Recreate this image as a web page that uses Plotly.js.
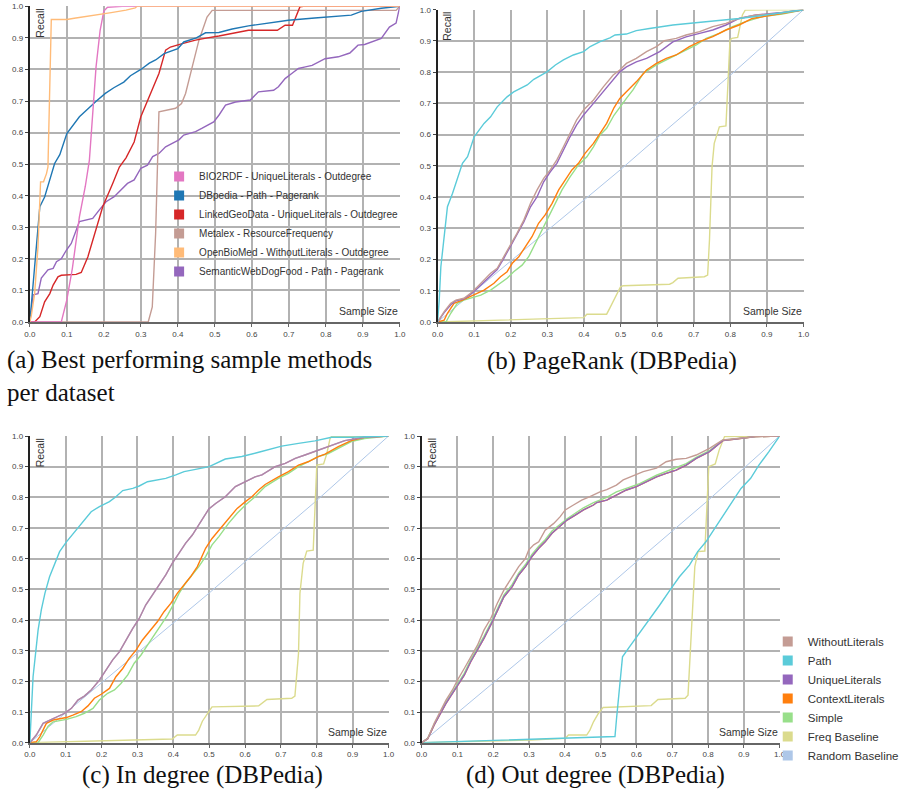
<!DOCTYPE html>
<html>
<head>
<meta charset="utf-8">
<script src="https://cdn.plot.ly/plotly-3.0.1.min.js"></script>
<style>html,body{margin:0;padding:0;background:#fff;}#chart{width:904px;height:794px;}</style>
</head>
<body>
<div id="chart"></div>
<script>
// ---------------- DATA ----------------
// (a) Best performing sample methods per dataset
const a_bio2rdf_x = [0, 0.085, 0.1, 0.115, 0.134, 0.15, 0.161, 0.17, 0.179, 0.19, 0.2, 0.21, 0.25, 1.0];
const a_bio2rdf_y = [0, 0, 0.07, 0.17, 0.333, 0.43, 0.513, 0.65, 0.808, 0.924, 0.985, 0.997, 1.0, 1.0];
const a_dbpedia_x = [0, 0.009, 0.019, 0.027, 0.04, 0.067, 0.081, 0.1, 0.134, 0.152, 0.18, 0.204, 0.227, 0.254, 0.272, 0.3, 0.323, 0.34, 0.363, 0.4, 0.416, 0.45, 0.475, 0.511, 0.547, 0.591, 0.636, 0.699, 0.77, 0.833, 0.869, 0.896, 0.95, 1.0];
const a_dbpedia_y = [0, 0.123, 0.28, 0.365, 0.396, 0.502, 0.53, 0.597, 0.65, 0.67, 0.70, 0.724, 0.742, 0.76, 0.78, 0.80, 0.82, 0.83, 0.85, 0.866, 0.887, 0.9, 0.916, 0.917, 0.928, 0.938, 0.945, 0.956, 0.963, 0.968, 0.972, 0.984, 0.994, 1.0];
const a_lgd_x = [0, 0.013, 0.027, 0.04, 0.054, 0.063, 0.076, 0.085, 0.125, 0.139, 0.157, 0.179, 0.197, 0.224, 0.242, 0.26, 0.282, 0.3, 0.323, 0.349, 0.367, 0.38, 0.412, 0.448, 0.48, 0.511, 0.591, 0.669, 0.69, 0.71, 0.73, 0.74, 1.0];
const a_lgd_y = [0, 0, 0.017, 0.064, 0.09, 0.117, 0.143, 0.148, 0.151, 0.157, 0.207, 0.291, 0.365, 0.439, 0.491, 0.52, 0.57, 0.65, 0.713, 0.787, 0.861, 0.871, 0.882, 0.893, 0.9, 0.906, 0.924, 0.924, 0.94, 0.94, 0.998, 1.0, 1.0];
const a_metalex_x = [0, 0.32, 0.331, 0.34, 0.349, 0.394, 0.41, 0.421, 0.439, 0.457, 0.479, 0.493, 0.99, 1.0];
const a_metalex_y = [0, 0, 0.048, 0.28, 0.666, 0.677, 0.692, 0.724, 0.808, 0.892, 0.966, 0.987, 0.987, 1.0];
const a_obm_x = [0, 0.004, 0.013, 0.022, 0.029, 0.037, 0.045, 0.049, 0.058, 0.1, 0.12, 0.18, 0.22, 0.26, 0.285, 0.29, 1.0];
const a_obm_y = [0, 0.02, 0.09, 0.238, 0.444, 0.444, 0.47, 0.491, 0.958, 0.958, 0.962, 0.972, 0.98, 0.988, 0.995, 1.0, 1.0];
const a_swdf_x = [0, 0.009, 0.022, 0.031, 0.049, 0.063, 0.072, 0.085, 0.099, 0.112, 0.134, 0.17, 0.188, 0.206, 0.228, 0.246, 0.264, 0.282, 0.3, 0.318, 0.332, 0.349, 0.367, 0.385, 0.403, 0.416, 0.434, 0.448, 0.466, 0.484, 0.497, 0.511, 0.529, 0.556, 0.596, 0.618, 0.659, 0.672, 0.69, 0.708, 0.726, 0.745, 0.763, 0.798, 0.834, 0.865, 0.887, 0.905, 0.932, 0.95, 0.972, 0.99, 1.0];
const a_swdf_y = [0, 0.086, 0.09, 0.139, 0.165, 0.17, 0.191, 0.2, 0.228, 0.249, 0.318, 0.328, 0.355, 0.381, 0.397, 0.418, 0.439, 0.45, 0.487, 0.497, 0.524, 0.534, 0.555, 0.566, 0.577, 0.592, 0.598, 0.603, 0.614, 0.627, 0.634, 0.655, 0.687, 0.697, 0.703, 0.729, 0.734, 0.745, 0.771, 0.787, 0.803, 0.808, 0.813, 0.834, 0.84, 0.852, 0.877, 0.879, 0.89, 0.898, 0.934, 0.947, 1.0];

// Random baseline (shared by b, c, d)
const rand_x = [0, 0.1, 0.2, 0.3, 0.4, 0.5, 0.6, 0.7, 0.8, 0.9, 1.0];
const rand_y = [0, 0.097, 0.195, 0.294, 0.388, 0.488, 0.59, 0.69, 0.79, 0.895, 1.0];

// (b) PageRank (DBPedia)
const b_path_x = [0, 0.0045, 0.009, 0.018, 0.027, 0.041, 0.054, 0.068, 0.082, 0.1, 0.127, 0.145, 0.163, 0.19, 0.208, 0.226, 0.245, 0.263, 0.299, 0.322, 0.344, 0.371, 0.399, 0.417, 0.444, 0.471, 0.485, 0.516, 0.543, 0.579, 0.643, 0.705, 0.768, 0.824, 0.878, 0.942, 1.0];
const b_path_y = [0, 0.07, 0.177, 0.284, 0.369, 0.412, 0.455, 0.508, 0.529, 0.593, 0.636, 0.657, 0.689, 0.721, 0.737, 0.748, 0.759, 0.777, 0.801, 0.823, 0.839, 0.855, 0.866, 0.882, 0.898, 0.91, 0.919, 0.922, 0.933, 0.94, 0.951, 0.958, 0.965, 0.972, 0.98, 0.99, 1.0];
const b_without_x = [0, 0.018, 0.036, 0.05, 0.072, 0.09, 0.109, 0.127, 0.145, 0.163, 0.181, 0.199, 0.217, 0.236, 0.254, 0.272, 0.29, 0.308, 0.326, 0.344, 0.362, 0.38, 0.399, 0.426, 0.453, 0.48, 0.498, 0.516, 0.543, 0.571, 0.598, 0.62, 0.652, 0.679, 0.716, 0.752, 0.788, 0.824, 0.87, 0.915, 1.0];
const b_without_y = [0, 0.033, 0.06, 0.07, 0.076, 0.092, 0.113, 0.134, 0.156, 0.172, 0.209, 0.247, 0.284, 0.327, 0.38, 0.423, 0.46, 0.487, 0.519, 0.561, 0.604, 0.647, 0.679, 0.711, 0.753, 0.791, 0.807, 0.828, 0.844, 0.866, 0.882, 0.901, 0.908, 0.919, 0.93, 0.946, 0.956, 0.972, 0.983, 0.986, 1.0];
const b_unique_x = [0, 0.018, 0.036, 0.05, 0.072, 0.09, 0.109, 0.127, 0.145, 0.163, 0.181, 0.199, 0.217, 0.236, 0.254, 0.272, 0.29, 0.308, 0.326, 0.344, 0.362, 0.38, 0.399, 0.426, 0.453, 0.48, 0.498, 0.516, 0.543, 0.571, 0.607, 0.643, 0.679, 0.716, 0.752, 0.788, 0.824, 0.87, 0.933, 1.0];
const b_unique_y = [0, 0.03, 0.055, 0.068, 0.074, 0.088, 0.108, 0.128, 0.15, 0.168, 0.204, 0.241, 0.279, 0.321, 0.369, 0.401, 0.449, 0.481, 0.508, 0.551, 0.593, 0.631, 0.663, 0.7, 0.737, 0.775, 0.801, 0.817, 0.833, 0.844, 0.866, 0.897, 0.913, 0.924, 0.935, 0.951, 0.972, 0.983, 0.99, 1.0];
const b_context_x = [0, 0.018, 0.027, 0.045, 0.068, 0.09, 0.109, 0.127, 0.154, 0.172, 0.19, 0.204, 0.222, 0.24, 0.258, 0.276, 0.294, 0.313, 0.331, 0.349, 0.367, 0.385, 0.403, 0.426, 0.444, 0.462, 0.482, 0.498, 0.516, 0.543, 0.571, 0.598, 0.625, 0.652, 0.688, 0.716, 0.752, 0.788, 0.824, 0.86, 0.915, 1.0];
const b_context_y = [0, 0.006, 0.028, 0.06, 0.07, 0.081, 0.092, 0.102, 0.124, 0.145, 0.161, 0.188, 0.209, 0.241, 0.273, 0.316, 0.343, 0.38, 0.423, 0.455, 0.487, 0.508, 0.54, 0.572, 0.604, 0.636, 0.686, 0.716, 0.737, 0.769, 0.807, 0.828, 0.844, 0.855, 0.882, 0.898, 0.914, 0.935, 0.951, 0.972, 0.983, 1.0];
const b_simple_x = [0, 0.023, 0.036, 0.054, 0.072, 0.1, 0.118, 0.145, 0.172, 0.19, 0.208, 0.231, 0.249, 0.267, 0.285, 0.303, 0.322, 0.34, 0.362, 0.385, 0.408, 0.426, 0.444, 0.462, 0.482, 0.498, 0.516, 0.534, 0.562, 0.598, 0.634, 0.67, 0.707, 0.734, 0.77, 0.806, 0.842, 0.888, 0.942, 1.0];
const b_simple_y = [0, 0, 0.028, 0.06, 0.07, 0.081, 0.086, 0.102, 0.124, 0.14, 0.161, 0.182, 0.209, 0.252, 0.295, 0.337, 0.38, 0.423, 0.465, 0.503, 0.529, 0.561, 0.599, 0.62, 0.662, 0.689, 0.716, 0.743, 0.796, 0.823, 0.844, 0.866, 0.887, 0.908, 0.924, 0.946, 0.962, 0.978, 0.986, 1.0];
const b_freq_x = [0, 0.1, 0.19, 0.281, 0.399, 0.408, 0.462, 0.471, 0.485, 0.5, 0.507, 0.634, 0.643, 0.657, 0.729, 0.738, 0.743, 0.75, 0.756, 0.77, 0.788, 0.799, 0.804, 0.82, 0.833, 0.841, 1.0];
const b_freq_y = [0, 0.003, 0.006, 0.01, 0.014, 0.025, 0.025, 0.045, 0.076, 0.113, 0.116, 0.121, 0.126, 0.14, 0.145, 0.15, 0.263, 0.497, 0.572, 0.625, 0.628, 0.903, 0.908, 0.911, 0.983, 0.999, 1.0];

// (c) In degree (DBPedia)
const c_path_x = [0, 0.005, 0.009, 0.017, 0.023, 0.032, 0.042, 0.055, 0.069, 0.083, 0.102, 0.125, 0.148, 0.171, 0.194, 0.222, 0.24, 0.259, 0.287, 0.305, 0.328, 0.36, 0.379, 0.407, 0.43, 0.462, 0.5, 0.545, 0.591, 0.638, 0.702, 0.749, 0.795, 0.841, 0.896, 1.0];
const c_path_y = [0, 0.107, 0.215, 0.302, 0.367, 0.433, 0.487, 0.541, 0.585, 0.623, 0.655, 0.688, 0.721, 0.753, 0.77, 0.786, 0.802, 0.822, 0.829, 0.837, 0.851, 0.857, 0.862, 0.873, 0.884, 0.891, 0.9, 0.925, 0.933, 0.947, 0.967, 0.976, 0.984, 0.996, 0.996, 1.0];
const c_without_x = [0, 0.018, 0.037, 0.051, 0.074, 0.097, 0.116, 0.134, 0.152, 0.171, 0.194, 0.213, 0.231, 0.25, 0.268, 0.287, 0.305, 0.323, 0.342, 0.36, 0.379, 0.397, 0.416, 0.434, 0.453, 0.471, 0.499, 0.518, 0.545, 0.573, 0.601, 0.628, 0.647, 0.684, 0.712, 0.74, 0.767, 0.804, 0.841, 0.878, 0.933, 1.0];
const c_without_y = [0, 0.025, 0.063, 0.071, 0.082, 0.096, 0.112, 0.139, 0.152, 0.172, 0.204, 0.237, 0.27, 0.297, 0.335, 0.373, 0.405, 0.449, 0.482, 0.514, 0.547, 0.585, 0.617, 0.65, 0.677, 0.712, 0.762, 0.78, 0.802, 0.835, 0.851, 0.867, 0.873, 0.9, 0.911, 0.927, 0.938, 0.954, 0.971, 0.985, 0.996, 1.0];
const c_unique_x = c_without_x;   // UniqueLiterals coincides with WithoutLiterals in (c)
const c_unique_y = c_without_y;
const c_context_x = [0, 0.018, 0.028, 0.046, 0.065, 0.102, 0.12, 0.143, 0.162, 0.18, 0.199, 0.222, 0.24, 0.259, 0.277, 0.296, 0.314, 0.333, 0.356, 0.374, 0.393, 0.411, 0.43, 0.448, 0.467, 0.49, 0.508, 0.527, 0.554, 0.578, 0.601, 0.619, 0.638, 0.656, 0.693, 0.721, 0.749, 0.776, 0.804, 0.823, 0.86, 0.896, 0.933, 1.0];
const c_context_y = [0, 0.003, 0.02, 0.063, 0.074, 0.082, 0.09, 0.101, 0.12, 0.145, 0.158, 0.177, 0.215, 0.242, 0.275, 0.302, 0.335, 0.362, 0.395, 0.427, 0.454, 0.487, 0.514, 0.541, 0.574, 0.634, 0.666, 0.693, 0.732, 0.764, 0.786, 0.802, 0.824, 0.842, 0.867, 0.884, 0.905, 0.916, 0.933, 0.941, 0.965, 0.985, 0.996, 1.0];
const c_simple_x = [0, 0.023, 0.037, 0.051, 0.065, 0.102, 0.129, 0.152, 0.176, 0.194, 0.217, 0.236, 0.254, 0.273, 0.291, 0.31, 0.328, 0.347, 0.365, 0.384, 0.402, 0.416, 0.434, 0.453, 0.471, 0.49, 0.508, 0.527, 0.554, 0.578, 0.601, 0.628, 0.656, 0.693, 0.721, 0.749, 0.776, 0.804, 0.832, 0.86, 0.896, 0.933, 1.0];
const c_simple_y = [0, 0, 0.025, 0.054, 0.068, 0.076, 0.085, 0.096, 0.112, 0.139, 0.161, 0.172, 0.193, 0.221, 0.259, 0.286, 0.318, 0.351, 0.384, 0.416, 0.454, 0.487, 0.52, 0.547, 0.574, 0.607, 0.645, 0.672, 0.715, 0.748, 0.775, 0.802, 0.835, 0.862, 0.878, 0.9, 0.916, 0.933, 0.943, 0.96, 0.982, 0.992, 1.0];
const c_freq_x = [0, 0.102, 0.194, 0.287, 0.397, 0.411, 0.462, 0.471, 0.481, 0.499, 0.508, 0.638, 0.661, 0.73, 0.739, 0.749, 0.753, 0.762, 0.772, 0.79, 0.8, 0.819, 0.828, 0.837, 0.841, 1.0];
const c_freq_y = [0, 0.003, 0.005, 0.009, 0.012, 0.025, 0.025, 0.041, 0.07, 0.101, 0.117, 0.12, 0.141, 0.145, 0.152, 0.291, 0.487, 0.585, 0.625, 0.628, 0.905, 0.909, 0.943, 0.992, 0.998, 1.0];

// (d) Out degree (DBPedia)
const d_without_x = [0, 0.017, 0.035, 0.054, 0.068, 0.086, 0.1, 0.119, 0.137, 0.156, 0.174, 0.193, 0.211, 0.23, 0.253, 0.271, 0.29, 0.299, 0.313, 0.327, 0.345, 0.369, 0.387, 0.401, 0.424, 0.447, 0.47, 0.498, 0.517, 0.544, 0.563, 0.591, 0.619, 0.656, 0.683, 0.711, 0.739, 0.767, 0.804, 0.841, 0.878, 0.933, 1.0];
const d_without_y = [0, 0.014, 0.063, 0.107, 0.139, 0.172, 0.204, 0.242, 0.28, 0.318, 0.367, 0.405, 0.454, 0.498, 0.541, 0.574, 0.601, 0.628, 0.645, 0.655, 0.693, 0.715, 0.737, 0.759, 0.775, 0.791, 0.802, 0.818, 0.825, 0.84, 0.857, 0.87, 0.884, 0.895, 0.916, 0.924, 0.927, 0.938, 0.96, 0.987, 0.992, 0.998, 1.0];
const d_unique_x = [0, 0.017, 0.035, 0.054, 0.068, 0.086, 0.1, 0.119, 0.137, 0.156, 0.174, 0.193, 0.211, 0.23, 0.253, 0.271, 0.29, 0.308, 0.327, 0.345, 0.364, 0.387, 0.406, 0.429, 0.452, 0.48, 0.489, 0.517, 0.544, 0.572, 0.6, 0.628, 0.656, 0.683, 0.711, 0.739, 0.767, 0.804, 0.841, 0.878, 0.933, 1.0];
const d_unique_y = [0, 0.013, 0.058, 0.101, 0.128, 0.161, 0.188, 0.22, 0.264, 0.302, 0.34, 0.384, 0.427, 0.476, 0.509, 0.547, 0.574, 0.607, 0.634, 0.655, 0.683, 0.707, 0.726, 0.742, 0.759, 0.775, 0.783, 0.791, 0.808, 0.824, 0.835, 0.851, 0.867, 0.878, 0.889, 0.905, 0.927, 0.949, 0.985, 0.99, 0.998, 1.0];
const d_context_x = d_unique_x;   // ContextLiterals hidden beneath UniqueLiterals in (d)
const d_context_y = d_unique_y;
const d_simple_x = [0, 0.017, 0.035, 0.054, 0.068, 0.086, 0.1, 0.119, 0.137, 0.156, 0.174, 0.193, 0.211, 0.23, 0.253, 0.271, 0.29, 0.308, 0.327, 0.345, 0.364, 0.387, 0.406, 0.429, 0.452, 0.48, 0.517, 0.544, 0.572, 0.609, 0.656, 0.683, 0.711, 0.739, 0.767, 0.804, 0.841, 0.878, 0.933, 1.0];
const d_simple_y = [0, 0.014, 0.06, 0.104, 0.132, 0.165, 0.192, 0.226, 0.27, 0.308, 0.347, 0.39, 0.434, 0.482, 0.516, 0.553, 0.581, 0.614, 0.641, 0.662, 0.69, 0.712, 0.73, 0.748, 0.766, 0.783, 0.8, 0.818, 0.83, 0.845, 0.872, 0.885, 0.897, 0.91, 0.93, 0.952, 0.986, 0.991, 0.998, 1.0];
const d_path_x = [0, 0.1, 0.2, 0.3, 0.4, 0.489, 0.54, 0.544, 0.554, 0.561, 0.581, 0.609, 0.628, 0.642, 0.665, 0.694, 0.72, 0.748, 0.771, 0.794, 0.822, 0.845, 0.869, 0.892, 0.919, 0.942, 0.97, 1.0];
const d_path_y = [0, 0.004, 0.007, 0.01, 0.015, 0.02, 0.02, 0.074, 0.204, 0.28, 0.313, 0.357, 0.389, 0.411, 0.449, 0.498, 0.541, 0.579, 0.623, 0.655, 0.704, 0.748, 0.786, 0.829, 0.862, 0.905, 0.949, 1.0];
const d_freq_x = [0, 0.119, 0.211, 0.304, 0.401, 0.41, 0.461, 0.47, 0.48, 0.494, 0.507, 0.641, 0.66, 0.736, 0.744, 0.754, 0.763, 0.772, 0.791, 0.802, 0.82, 0.831, 0.846, 1.0];
const d_freq_y = [0, 0.003, 0.005, 0.009, 0.014, 0.025, 0.025, 0.041, 0.068, 0.096, 0.115, 0.121, 0.141, 0.145, 0.155, 0.4, 0.574, 0.623, 0.625, 0.9, 0.909, 0.954, 0.998, 1.0];

// names
const a_names = ['BIO2RDF - UniqueLiterals - Outdegree', 'DBpedia - Path - Pagerank', 'LinkedGeoData - UniqueLiterals - Outdegree', 'Metalex - ResourceFrequency', 'OpenBioMed - WithoutLiterals - Outdegree', 'SemanticWebDogFood - Path - Pagerank'];
const method_names = ['WithoutLiterals', 'Path', 'UniqueLiterals', 'ContextLiterals', 'Simple', 'Freq Baseline', 'Random Baseline'];
const captions = ['(a) Best performing sample methods<br>per dataset', '(b) PageRank (DBPedia)', '(c) In degree (DBPedia)', '(d) Out degree (DBPedia)'];
const tick_vals = [0, 0.1, 0.2, 0.3, 0.4, 0.5, 0.6, 0.7, 0.8, 0.9, 1.0];

// ---------------- STYLE ----------------
const A_COL = ['#e377c2', '#1f77b4', '#d62728', '#c49c94', '#ffbb78', '#9467bd'];
const M_COL = {without: '#c49c94', path: '#5bcbd9', unique: '#9467bd', context: '#ff7f0e', simple: '#98df8a', freq: '#dbdb8d', random: '#aec7e8'};
const W = 904, H = 794;
const PX = v => v / W, PY = v => 1 - v / H;

function ln(x, y, color, ax, width, opacity) {
  return {type: 'scatter', mode: 'lines', x: x, y: y, xaxis: 'x' + ax, yaxis: 'y' + ax,
    line: {color: color, width: width || 1.4}, opacity: opacity || 1, showlegend: false, hoverinfo: 'skip'};
}
function leg(name, color, ax, legendId) {
  return {type: 'scatter', mode: 'markers', x: [null], y: [null], xaxis: 'x' + ax, yaxis: 'y' + ax,
    name: name, legend: legendId, showlegend: true,
    marker: {symbol: 'square', size: 10, color: color, line: {width: 0}}};
}

const traces = [];
// (a)
const aX = [a_bio2rdf_x, a_dbpedia_x, a_lgd_x, a_metalex_x, a_obm_x, a_swdf_x];
const aY = [a_bio2rdf_y, a_dbpedia_y, a_lgd_y, a_metalex_y, a_obm_y, a_swdf_y];
const aOrder = [5, 3, 2, 1, 0, 4];
aOrder.forEach(i => traces.push(ln(aX[i], aY[i], A_COL[i], '')));
a_names.forEach((n, i) => traces.push(leg(n, A_COL[i], '', 'legend')));
// (b)
traces.push(ln(rand_x, rand_y, M_COL.random, '2', 1));
traces.push(ln(b_freq_x, b_freq_y, M_COL.freq, '2'));
traces.push(ln(b_simple_x, b_simple_y, M_COL.simple, '2'));
traces.push(ln(b_context_x, b_context_y, M_COL.context, '2'));
traces.push(ln(b_unique_x, b_unique_y, M_COL.unique, '2'));
traces.push(ln(b_without_x, b_without_y, M_COL.without, '2'));
traces.push(ln(b_path_x, b_path_y, M_COL.path, '2'));
// (c)
traces.push(ln(rand_x, rand_y, M_COL.random, '3', 1));
traces.push(ln(c_freq_x, c_freq_y, M_COL.freq, '3'));
traces.push(ln(c_simple_x, c_simple_y, M_COL.simple, '3'));
traces.push(ln(c_context_x, c_context_y, M_COL.context, '3'));
traces.push(ln(c_unique_x, c_unique_y, M_COL.unique, '3'));
traces.push(ln(c_without_x, c_without_y, M_COL.without, '3', 1.4, 0.6));
traces.push(ln(c_path_x, c_path_y, M_COL.path, '3'));
// (d)
traces.push(ln(rand_x, rand_y, M_COL.random, '4', 1));
traces.push(ln(d_freq_x, d_freq_y, M_COL.freq, '4'));
traces.push(ln(d_path_x, d_path_y, M_COL.path, '4'));
traces.push(ln(d_context_x, d_context_y, M_COL.context, '4'));
traces.push(ln(d_simple_x, d_simple_y, M_COL.simple, '4'));
traces.push(ln(d_unique_x, d_unique_y, M_COL.unique, '4'));
traces.push(ln(d_without_x, d_without_y, M_COL.without, '4'));
const mCols = [M_COL.without, M_COL.path, M_COL.unique, M_COL.context, M_COL.simple, M_COL.freq, M_COL.random];
method_names.forEach((n, i) => traces.push(leg(n, mCols[i], '4', 'legend2')));

function xax(l, r, anchor) {
  return {domain: [PX(l), PX(r)], range: [0, 1], anchor: anchor, tickvals: tick_vals, tickformat: '.1f',
    showgrid: true, gridcolor: '#b2b2b2', gridwidth: 2, zeroline: false,
    showline: true, linecolor: '#666', linewidth: 2, ticks: 'outside', ticklen: 3, tickcolor: '#666',
    tickfont: {family: 'Liberation Sans Narrow, Liberation Sans, Arial', size: 8, color: '#444'}, fixedrange: true};
}
function yax(t, b, anchor) {
  return {domain: [PY(b), PY(t)], range: [0, 1], anchor: anchor, tickvals: tick_vals, tickformat: '.1f',
    showgrid: true, gridcolor: '#b2b2b2', gridwidth: 2, zeroline: false,
    showline: true, linecolor: '#222', linewidth: 2, ticks: 'outside', ticklen: 3, tickcolor: '#444',
    tickfont: {family: 'Liberation Sans, Arial', size: 8, color: '#444'}, fixedrange: true};
}

const annFont = {family: 'Liberation Sans, Arial', size: 10.5, color: '#333'};
const annotations = [];
['', '2', '3', '4'].forEach(k => {
  annotations.push({text: 'Recall', textangle: -90, xref: 'x' + k + ' domain', yref: 'y' + k + ' domain',
    x: 0, y: 1, xanchor: 'left', yanchor: 'top', xshift: 2, yshift: 0, showarrow: false, font: annFont});
  annotations.push({text: 'Sample Size', xref: 'x' + k + ' domain', yref: 'y' + k + ' domain',
    x: 1, y: 0, xanchor: 'right', yanchor: 'bottom', xshift: 0, yshift: 3, showarrow: false, font: annFont});
});
const capFont = {family: 'Liberation Serif, Times New Roman, serif', size: 25, color: '#111'};
annotations.push({text: captions[0], xref: 'paper', yref: 'paper', x: PX(6), y: PY(376), xanchor: 'left', yanchor: 'middle', align: 'left', showarrow: false, font: capFont, borderpad: 0});
annotations.push({text: captions[1], xref: 'paper', yref: 'paper', x: PX(615), y: PY(361), xanchor: 'center', yanchor: 'middle', showarrow: false, font: capFont, borderpad: 0});
annotations.push({text: captions[2], xref: 'paper', yref: 'paper', x: PX(204), y: PY(775), xanchor: 'center', yanchor: 'middle', showarrow: false, font: capFont, borderpad: 0});
annotations.push({text: captions[3], xref: 'paper', yref: 'paper', x: PX(599), y: PY(775), xanchor: 'center', yanchor: 'middle', showarrow: false, font: capFont, borderpad: 0});

const layout = {
  width: W, height: H, autosize: false,
  margin: {l: 0, r: 0, t: 0, b: 0, pad: 0},
  paper_bgcolor: '#ffffff', plot_bgcolor: '#ffffff',
  xaxis: xax(30, 402, 'y'), yaxis: yax(6.3, 322, 'x'),
  xaxis2: xax(440, 808, 'y2'), yaxis2: yax(9.7, 322, 'x2'),
  xaxis3: xax(30, 390.7, 'y3'), yaxis3: yax(436, 742.7, 'x3'),
  xaxis4: xax(424, 784, 'y4'), yaxis4: yax(436, 742.7, 'x4'),
  legend: {x: PX(160), y: PY(162), xanchor: 'left', yanchor: 'top', bgcolor: 'rgba(0,0,0,0)',
    font: {family: 'Liberation Sans, Arial', size: 10, color: '#333'}, itemwidth: 30, borderwidth: 0},
  legend2: {x: PX(772), y: PY(627), xanchor: 'left', yanchor: 'top', bgcolor: 'rgba(0,0,0,0)',
    font: {family: 'Liberation Sans, Arial', size: 11.5, color: '#333'}, itemwidth: 30, borderwidth: 0},
  annotations: annotations,
  showlegend: true
};

Plotly.newPlot('chart', traces, layout, {displayModeBar: false, staticPlot: true});
</script>
</body>
</html>
